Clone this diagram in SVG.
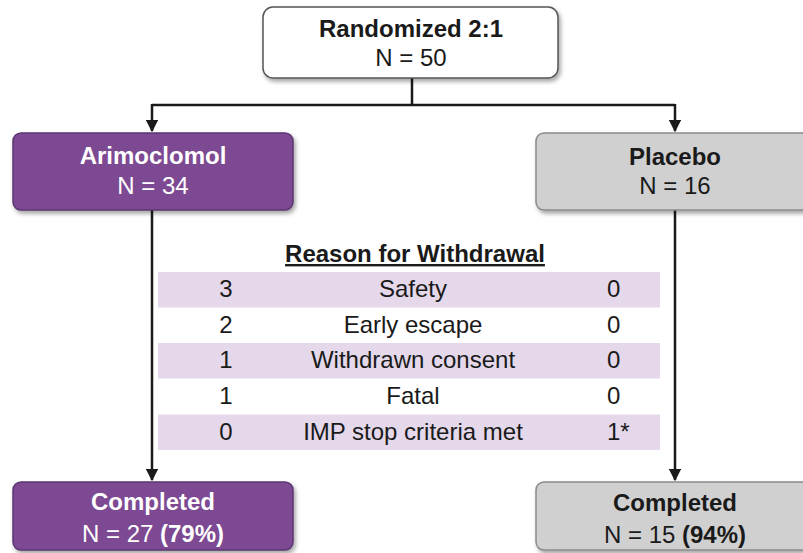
<svg xmlns="http://www.w3.org/2000/svg" width="803" height="553" viewBox="0 0 803 553">
<style>
text{font-family:"Liberation Sans",Arial,sans-serif;font-size:24px;}
.b{font-weight:bold;}
.w{fill:#ffffff;}
.k{fill:#1a1a1a;}
.c{text-anchor:middle;}
.purple{fill:#7b4a92;stroke:#5b3670;stroke-width:1.5;}
.gray{fill:#d0d0d0;stroke:#8a8a8a;stroke-width:1.5;}
.white{fill:#ffffff;stroke:#555555;stroke-width:1.5;}
.shade{fill:#e4d8ea;}
.line{fill:none;stroke:#1a1a1a;stroke-width:2.5;}
</style>
<defs>
<filter id="sh" x="-10%" y="-10%" width="130%" height="140%">
<feDropShadow dx="2" dy="3" stdDeviation="2" flood-color="#000" flood-opacity="0.35"/>
</filter>
<marker id="arr" viewBox="0 0 10 10" refX="9" refY="5" markerWidth="5" markerHeight="5" orient="auto" markerUnits="strokeWidth">
<path d="M0,0 L10,5 L0,10 z" fill="#1a1a1a"/>
</marker>
</defs>
<rect width="803" height="553" fill="#ffffff"/>
<g id="table">
<rect class="shade" x="158" y="272" width="502" height="35.5"/>
<rect class="shade" x="158" y="343" width="502" height="35.5"/>
<rect class="shade" x="158" y="414.5" width="502" height="35.5"/>
<text class="b k c" x="415" y="262" text-decoration="underline">Reason for Withdrawal</text>
<text class="k c" x="226" y="297">3</text>
<text class="k c" x="413" y="297">Safety</text>
<text class="k" x="607" y="297">0</text>
<text class="k c" x="226" y="333">2</text>
<text class="k c" x="413" y="333">Early escape</text>
<text class="k" x="607" y="333">0</text>
<text class="k c" x="226" y="368">1</text>
<text class="k c" x="413" y="368">Withdrawn consent</text>
<text class="k" x="607" y="368">0</text>
<text class="k c" x="226" y="404">1</text>
<text class="k c" x="413" y="404">Fatal</text>
<text class="k" x="607" y="404">0</text>
<text class="k c" x="226" y="440">0</text>
<text class="k c" x="413" y="440">IMP stop criteria met</text>
<text class="k" x="607" y="440">1*</text>
</g>
<g id="connectors">
<path class="line" d="M412,78 V105"/>
<path class="line" d="M152,105 H675"/>
<path class="line" d="M152,104 V131" marker-end="url(#arr)"/>
<path class="line" d="M675,104 V131" marker-end="url(#arr)"/>
<path class="line" d="M152,210 V480" marker-end="url(#arr)"/>
<path class="line" d="M675,210 V480" marker-end="url(#arr)"/>
</g>
<g id="randomized">
<rect class="white" x="263" y="7" width="295" height="71" rx="10" filter="url(#sh)"/>
<text class="b k c" x="411" y="37">Randomized 2:1</text>
<text class="k c" x="411" y="66">N = 50</text>
</g>
<g id="arimoclomol">
<rect class="purple" x="13" y="133" width="280" height="77" rx="8" filter="url(#sh)"/>
<text class="b w c" x="153" y="164">Arimoclomol</text>
<text class="w c" x="153" y="194">N = 34</text>
</g>
<g id="placebo">
<rect class="gray" x="536" y="133" width="280" height="77" rx="8" filter="url(#sh)"/>
<text class="b k c" x="675" y="165">Placebo</text>
<text class="k c" x="675" y="194">N = 16</text>
</g>
<g id="completed-arimoclomol">
<rect class="purple" x="13" y="482" width="280" height="68" rx="8" filter="url(#sh)"/>
<text class="b w c" x="153" y="510">Completed</text>
<text class="w c" x="153" y="542">N = 27 <tspan class="b">(79%)</tspan></text>
</g>
<g id="completed-placebo">
<rect class="gray" x="536" y="482" width="280" height="68" rx="8" filter="url(#sh)"/>
<text class="b k c" x="675" y="511">Completed</text>
<text class="k c" x="675" y="543">N = 15 <tspan class="b">(94%)</tspan></text>
</g>
</svg>
